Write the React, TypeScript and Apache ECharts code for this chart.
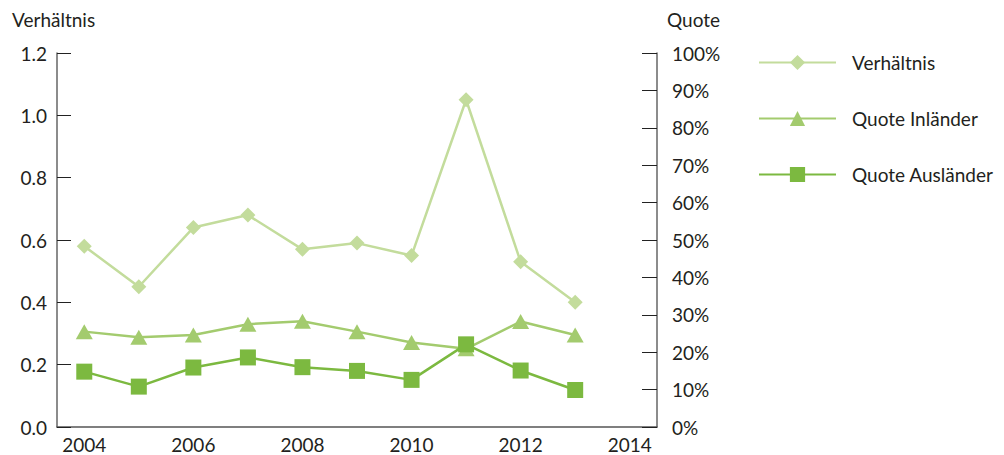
import React, { useEffect, useRef } from "react";
import * as echarts from "echarts";

const years = ["2004", "2005", "2006", "2007", "2008", "2009", "2010", "2011", "2012", "2013", "2014"];
const verhaeltnis = [0.58, 0.45, 0.64, 0.68, 0.57, 0.59, 0.55, 1.05, 0.53, 0.40];
const quoteInlaender = [25.5, 24.0, 24.6, 27.5, 28.3, 25.5, 22.6, 20.9, 28.2, 24.6];
const quoteAuslaender = [14.8, 10.8, 15.9, 18.6, 16.0, 15.0, 12.6, 22.1, 15.1, 9.9];

const FONT = "Lato";
const TXT = "#231f20";

export default function App() {
  const ref = useRef<HTMLDivElement>(null);
  useEffect(() => {
    if (!ref.current) return;
    const chart = echarts.init(ref.current, undefined, { renderer: "svg" });
    chart.setOption({
      animation: false,
      textStyle: { fontFamily: FONT, color: TXT },
      grid: { left: 57, right: 347, top: 53, bottom: 28, containLabel: false },
      graphic: [
        { type: "text", left: 12, top: 10, style: { text: "Verhältnis", font: `19px ${FONT}`, fill: TXT } },
        { type: "text", left: 667, top: 10, style: { text: "Quote", font: `19px ${FONT}`, fill: TXT } },
      ],
      legend: {
        orient: "vertical",
        left: 753,
        top: 48,
        itemWidth: 77,
        itemHeight: 19,
        itemGap: 37,
        textStyle: { fontFamily: FONT, fontSize: 19, color: TXT, lineHeight: 19, padding: [0, 0, 0, 11] },
        data: ["Verhältnis", "Quote Inländer", "Quote Ausländer"],
      },
      xAxis: {
        type: "category",
        data: years,
        boundaryGap: true,
        axisLine: { lineStyle: { color: "#555", width: 1.5 } },
        axisTick: { alignWithLabel: true, interval: 0, inside: true, length: 9, lineStyle: { color: "#333" } },
        axisLabel: { interval: 1, margin: 8, fontFamily: FONT, fontSize: 19, color: TXT },
        splitLine: { show: false },
      },
      yAxis: [
        {
          type: "value",
          min: 0,
          max: 1.2,
          interval: 0.2,
          position: "left",
          axisLine: { show: true, lineStyle: { color: "#666", width: 1.5 } },
          axisTick: { show: true, inside: true, length: 14, lineStyle: { color: "#222" } },
          axisLabel: { margin: 10, fontFamily: FONT, fontSize: 19, color: TXT, formatter: (v: number) => v.toFixed(1) },
          splitLine: { show: false },
        },
        {
          type: "value",
          min: 0,
          max: 100,
          interval: 10,
          position: "right",
          axisLine: { show: true, lineStyle: { color: "#666", width: 1.5 } },
          axisTick: { show: true, inside: true, length: 15, lineStyle: { color: "#222" } },
          axisLabel: { margin: 15, fontFamily: FONT, fontSize: 19, color: TXT, formatter: "{value}%" },
          splitLine: { show: false },
        },
      ],
      series: [
        {
          name: "Verhältnis",
          type: "line",
          yAxisIndex: 0,
          data: verhaeltnis,
          symbol: "diamond",
          symbolSize: 15,
          lineStyle: { color: "#c3dc9c", width: 2.5 },
          itemStyle: { color: "#c3dc9c" },
        },
        {
          name: "Quote Inländer",
          type: "line",
          yAxisIndex: 1,
          data: quoteInlaender,
          symbol: "triangle",
          symbolSize: [17, 15],
          lineStyle: { color: "#a3cb6e", width: 2.5 },
          itemStyle: { color: "#a3cb6e" },
        },
        {
          name: "Quote Ausländer",
          type: "line",
          yAxisIndex: 1,
          data: quoteAuslaender,
          symbol: "rect",
          symbolSize: 16,
          lineStyle: { color: "#7cb940", width: 2.5 },
          itemStyle: { color: "#7cb940" },
        },
      ],
    });
    return () => chart.dispose();
  }, []);
  return <div ref={ref} style={{ width: 1004, height: 455, position: "absolute", left: 0, top: 0 }} />;
}
